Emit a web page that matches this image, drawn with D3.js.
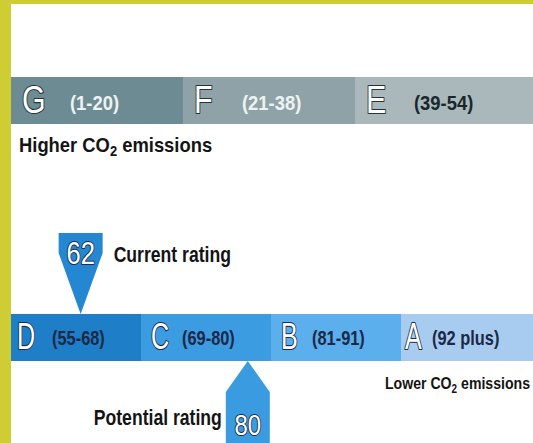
<!DOCTYPE html>
<html>
<head>
<meta charset="utf-8">
<script src="https://cdn.jsdelivr.net/npm/d3@7"></script>
<style>
  html, body { margin: 0; padding: 0; background: #fff; }
  svg { display: block; }
  text { font-family: "Liberation Sans", Arial, sans-serif; }
  .hollow { paint-order: stroke; stroke-linejoin: round; }
</style>
</head>
<body>
<script>
// bands of the rating scale
var topBands = ["G", "F", "E"];
var topRanges = ["(1-20)", "(21-38)", "(39-54)"];
var bottomBands = ["D", "C", "B", "A"];
var bottomRanges = ["(55-68)", "(69-80)", "(81-91)", "(92 plus)"];
var bottomLower = [55, 69, 81, 92];

// ratings shown by the arrows
var ratingNames = ["Current rating", "Potential rating"];
var ratingValues = [62, 80];

var W = 533, H = 443;
var svg = d3.select("body").append("svg")
  .attr("width", W)
  .attr("height", H);

// no narrow font installed, so squeeze text sideways
function place(sel, x, y, sx) {
  return sel.attr("transform", "translate(" + x + "," + y + ") scale(" + sx + ",1)");
}

// yellow page edge
svg.append("rect").attr("x", 0).attr("y", 0).attr("width", W).attr("height", 4).attr("fill", "#cfcd34");
svg.append("rect").attr("x", 0).attr("y", 0).attr("width", 11).attr("height", H).attr("fill", "#cfcd34");

var topColor = d3.scaleOrdinal().domain(topBands).range(["#6c8b92", "#8ea2a8", "#aab8bc"]);
var topLabelColor = d3.scaleOrdinal().domain(topBands).range(["#eef2f3", "#eef2f3", "#18272c"]);
var bottomColor = d3.scaleOrdinal().domain(bottomBands).range(["#1e7fc8", "#3b9ce2", "#5aafec", "#a8ccf0"]);

var xTop = d3.scaleBand().domain(topBands).range([11, 11 + 172 * 3]);
var xBot = d3.scaleBand().domain(bottomBands).range([11, 11 + 130 * 4]);

var topY = 77, topH = 47;
var botY = 314, botH = 47;

// ---- top bar (G F E)
var tg = svg.append("g");
tg.selectAll("rect").data(topBands).enter().append("rect")
  .attr("x", function(d) { return xTop(d); })
  .attr("y", topY)
  .attr("width", function(d, i) { return i == topBands.length - 1 ? W - xTop(d) : xTop.bandwidth() + 0.5; })
  .attr("height", topH)
  .attr("fill", function(d) { return topColor(d); });

tg.selectAll("text.letter").data(topBands).enter().append("text")
  .attr("class", "letter hollow")
  .each(function(d) { place(d3.select(this), xTop(d) + 11, 113, 0.8); })
  .attr("font-size", 38)
  .attr("fill", "#fff")
  .attr("stroke", "#24343a")
  .attr("stroke-width", 2.2)
  .text(function(d) { return d; });

tg.selectAll("text.range").data(topBands).enter().append("text")
  .attr("class", "range")
  .each(function(d) { place(d3.select(this), xTop(d) + 59, 110, 0.92); })
  .attr("font-size", 20)
  .attr("font-weight", "bold")
  .attr("fill", function(d) { return topLabelColor(d); })
  .text(function(d, i) { return topRanges[i]; });

// ---- bottom bar (D C B A)
var bg = svg.append("g");
bg.selectAll("rect").data(bottomBands).enter().append("rect")
  .attr("x", function(d) { return xBot(d); })
  .attr("y", botY)
  .attr("width", function(d, i) { return i == bottomBands.length - 1 ? W - xBot(d) : xBot.bandwidth() + 0.5; })
  .attr("height", botH)
  .attr("fill", function(d) { return bottomColor(d); });

bg.selectAll("text.letter").data(bottomBands).enter().append("text")
  .attr("class", "letter hollow")
  .each(function(d, i) { place(d3.select(this), xBot(d) + (i == 0 ? 6 : i == 3 ? 4 : 10), 349, 0.68); })
  .attr("font-size", 37)
  .attr("fill", "#fff")
  .attr("stroke", "#1d2d4a")
  .attr("stroke-width", 2.2)
  .text(function(d) { return d; });

bg.selectAll("text.range").data(bottomBands).enter().append("text")
  .attr("class", "range")
  .each(function(d, i) { place(d3.select(this), xBot(d) + (i == 3 ? 31 : 41), 345, 0.82); })
  .attr("font-size", 20)
  .attr("font-weight", "bold")
  .attr("fill", "#1b2846")
  .text(function(d, i) { return bottomRanges[i]; });

// captions at the ends of the scale
var hi = place(svg.append("text"), 19, 152, 0.92)
  .attr("font-size", 20).attr("font-weight", "bold").attr("fill", "#141414");
hi.append("tspan").text("Higher CO");
hi.append("tspan").attr("dy", 4).attr("font-size", 14).text("2");
hi.append("tspan").attr("dy", -4).text(" emissions");

var lo = place(svg.append("text"), 385, 389, 0.83)
  .attr("font-size", 17).attr("font-weight", "bold").attr("fill", "#141414");
lo.append("tspan").text("Lower CO");
lo.append("tspan").attr("dy", 4).attr("font-size", 12).text("2");
lo.append("tspan").attr("dy", -4).text(" emissions");

// ---- rating arrows: one step per rating unit inside D, centred on the unit
var rate = d3.scaleLinear().domain([bottomLower[0], bottomLower[1]]).range([xBot("D"), xBot("C")]);
var half = 22;

ratingValues.forEach(function(v, i) {
  var cx = rate(v + 0.5);
  var g = svg.append("g");
  var pts, numY, lab;
  if (i == 0) {
    // current: box above, pointing down onto the bar
    pts = [[cx - half, 233], [cx + half, 233], [cx + half, 253], [cx, botY], [cx - half, 253]];
    numY = 264;
    lab = { x: cx + 33, y: 262, anchor: "start" };
  } else {
    // potential: box below, pointing up to the bar
    var b = botY + botH;
    pts = [[cx, b], [cx + half, b + 31], [cx + half, H + 2], [cx - half, H + 2], [cx - half, b + 31]];
    numY = 435;
    lab = { x: cx - 26, y: 425, anchor: "end" };
  }
  g.append("path")
    .attr("d", d3.line()(pts) + "Z")
    .attr("fill", i == 0 ? "#2387d2" : "#3a9be1");
  place(g.append("text"), cx, numY, 0.8)
    .attr("class", "hollow")
    .attr("text-anchor", "middle")
    .attr("font-size", i == 0 ? 32 : 30)
    .attr("fill", "#fff")
    .attr("stroke", "#1d2d4a")
    .attr("stroke-width", 2)
    .text(v);
  place(g.append("text"), lab.x, lab.y, 0.8)
    .attr("text-anchor", lab.anchor)
    .attr("font-size", 22)
    .attr("font-weight", "bold")
    .attr("fill", "#141414")
    .text(ratingNames[i]);
});
</script>
</body>
</html>
